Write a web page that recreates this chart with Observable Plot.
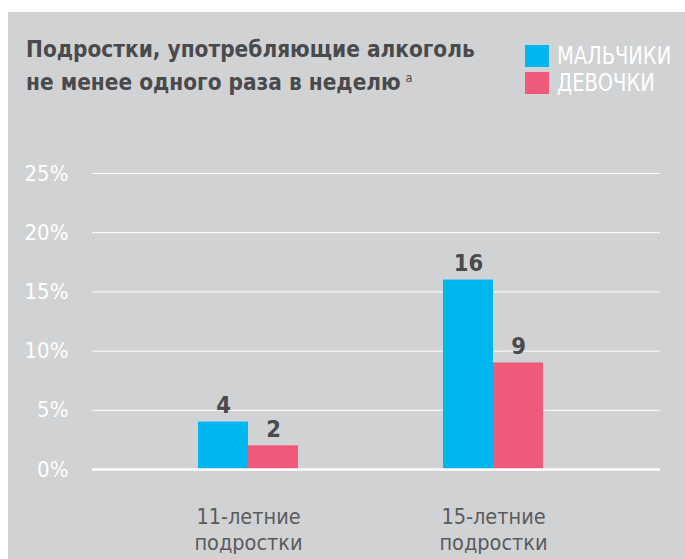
<!DOCTYPE html>
<html>
<head>
<meta charset="utf-8">
<script src="https://cdn.jsdelivr.net/npm/d3@7"></script>
<script src="https://cdn.jsdelivr.net/npm/@observablehq/plot@0.6"></script>
<style>
  html, body { margin: 0; padding: 0; background: #ffffff; }
  #page { position: relative; width: 685px; height: 559px; overflow: hidden; }
  #panel { position: absolute; left: 8px; top: 12px; width: 677px; height: 547px; background: #d1d2d4; }
  .tl { position: absolute; left: 26px; font-family: "DejaVu Sans Condensed", sans-serif; font-weight: bold; font-size: 23px; line-height: 23px; color: #4a4a4c; white-space: nowrap; transform: scaleX(0.975); transform-origin: left; }
  .tl sup { font-size: 13px; font-weight: normal; vertical-align: baseline; position: relative; top: -8px; margin-left: 5px; }
  #legend { position: absolute; left: 525px; top: 43px; font-family: "DejaVu Sans Condensed", sans-serif; font-size: 24px; color: #ffffff; }
  .li { display: flex; align-items: center; height: 26px; margin-bottom: 1px; }
  .sw { width: 24px; height: 22px; margin-right: 8px; flex: none; }
  .lt { display: inline-block; transform: scaleX(0.9); transform-origin: left; white-space: nowrap; }
  #chart { position: absolute; left: 0; top: 0; }
</style>
</head>
<body>
<div id="page">
  <div id="panel"></div>
  <div class="tl" id="t1" style="top:38px">Подростки, употребляющие алкоголь</div>
  <div class="tl" id="t2" style="top:71px">не менее одного раза в неделю<sup>a</sup></div>
  <div id="legend"></div>
  <div id="chart"></div>
</div>
<script>
const groups = ["11-летние\nподростки", "15-летние\nподростки"];
const boys = [4, 16];
const girls = [2, 9];
const seriesNames = ["МАЛЬЧИКИ", "ДЕВОЧКИ"];
const seriesColors = ["#00b6ef", "#f05a7a"];
const yTicks = [0, 5, 10, 15, 20, 25];

const boysData = groups.map((g, i) => ({group: g, value: boys[i]}));
const girlsData = groups.map((g, i) => ({group: g, value: girls[i]}));

const legend = document.getElementById("legend");
seriesNames.forEach((n, i) => {
  const d = document.createElement("div");
  d.className = "li";
  d.innerHTML = `<span class="sw" style="background:${seriesColors[i]}"></span><span class="lt">${n}</span>`;
  legend.appendChild(d);
});

const font = '"DejaVu Sans Condensed", sans-serif';

const chart = Plot.plot({
  width: 685,
  height: 559,
  marginLeft: 92,
  marginRight: 25,
  marginTop: 173,
  marginBottom: 90,
  style: {background: "transparent", fontFamily: font, overflow: "visible"},
  x: {domain: groups, paddingInner: 0.592, paddingOuter: 0.455, align: 0.475, axis: null},
  y: {domain: [0, 25], axis: null},
  marks: [
    Plot.ruleY(yTicks.filter(d => d > 0), {stroke: "#ffffff", strokeWidth: 1}),
    Plot.barY(boysData, {x: "group", y: "value", fill: seriesColors[0], insetRight: 50, insetLeft: 0}),
    Plot.barY(girlsData, {x: "group", y: "value", fill: seriesColors[1], insetLeft: 50, insetRight: 0}),
    Plot.ruleY([0], {stroke: "#ffffff", strokeWidth: 2.5}),
    Plot.axisY({ticks: yTicks, tickSize: 0, tickPadding: 24, tickFormat: d => d + "%", fontSize: 22, fill: "#ffffff", label: null}),
    Plot.axisX({tickSize: 0, tickPadding: 35, fontSize: 21.5, fill: "#5a5b5d", lineHeight: 1.25, label: null}),
    Plot.text(boysData, {x: "group", y: "value", text: d => String(d.value), dx: -25, dy: -9, lineAnchor: "bottom", fontSize: 23.5, fontWeight: "bold", fill: "#4a4a4c"}),
    Plot.text(girlsData, {x: "group", y: "value", text: d => String(d.value), dx: 25, dy: -9, lineAnchor: "bottom", fontSize: 23.5, fontWeight: "bold", fill: "#4a4a4c"})
  ]
});
document.getElementById("chart").appendChild(chart);
</script>
</body>
</html>
